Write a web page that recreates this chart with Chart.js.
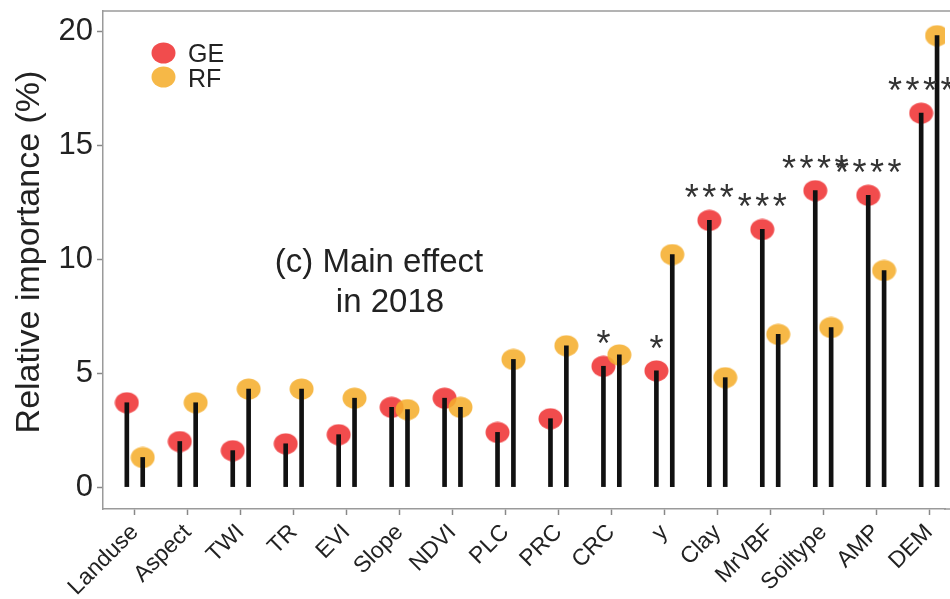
<!DOCTYPE html>
<html>
<head>
<meta charset="utf-8">
<script src="https://cdn.jsdelivr.net/npm/chart.js@4"></script>
<style>
  html, body { margin: 0; padding: 0; background: #fff; }
  #wrap { width: 950px; height: 599px; }
</style>
</head>
<body>
<div id="wrap"><canvas id="chart" width="950" height="599"></canvas></div>
<script>
const categories = ['Landuse', 'Aspect', 'TWI', 'TR', 'EVI', 'Slope', 'NDVI', 'PLC', 'PRC', 'CRC', 'y', 'Clay', 'MrVBF', 'Soiltype', 'AMP', 'DEM'];
const geValues = [3.7, 2.0, 1.6, 1.9, 2.3, 3.5, 3.9, 2.4, 3.0, 5.3, 5.1, 11.7, 11.3, 13.0, 12.8, 16.4];
const rfValues = [1.3, 3.7, 4.3, 4.3, 3.9, 3.4, 3.5, 5.6, 6.2, 5.8, 10.2, 4.8, 6.7, 7.0, 9.5, 19.8];
const sigMarks = ['', '', '', '', '', '', '', '', '', '*', '*', '***', '***', '****', '****', '****'];
const yTicks = [0, 5, 10, 15, 20];
const seriesNames = ['GE', 'RF'];

const FONT = '"Liberation Sans", Arial, sans-serif';
const GE_COLOR = 'rgba(240, 56, 58, 0.9)';
const RF_COLOR = 'rgba(245, 174, 45, 0.88)';
const FRAME = '#9a9a9a';
const SHIFT = 0.15; // dodge of the two lollipops within a category

// little ellipse used as point marker (points in the figure are slightly wider than tall)
function ellipse(color) {
  const c = document.createElement('canvas');
  c.width = 25; c.height = 22;
  const g = c.getContext('2d');
  g.fillStyle = color;
  g.beginPath();
  g.ellipse(12.5, 11, 12, 10.5, 0, 0, Math.PI * 2);
  g.fill();
  return c;
}
const geDot = ellipse(GE_COLOR);
const rfDot = ellipse(RF_COLOR);

const gePts = geValues.map((v, i) => ({ x: i - SHIFT, y: v }));
const rfPts = rfValues.map((v, i) => ({ x: i + SHIFT, y: v }));

const extras = {
  id: 'extras',
  afterDraw(chart) {
    const { ctx, chartArea: a, scales: { x, y } } = chart;
    ctx.save();

    // panel frame: top line, and run both lines out to the canvas edge (panel is cut off on the right)
    ctx.strokeStyle = FRAME;
    ctx.lineWidth = 1.5;
    ctx.beginPath();
    ctx.moveTo(a.left, a.top);
    ctx.lineTo(chart.width, a.top);
    ctx.moveTo(a.right - 1, a.bottom);
    ctx.lineTo(chart.width, a.bottom);
    ctx.stroke();

    // significance stars over the GE points
    ctx.fillStyle = '#333';
    ctx.font = '36px ' + FONT;
    ctx.textAlign = 'center';
    ctx.textBaseline = 'alphabetic';
    sigMarks.forEach((m, i) => {
      if (!m) return;
      const cx = x.getPixelForValue(i - SHIFT);
      const cy = y.getPixelForValue(geValues[i]) - 31;
      const n = m.length;
      for (let k = 0; k < n; k++) {
        const sx = cx + (k - (n - 1) / 2) * 17.5;
        ctx.fillText('*', sx, cy + 21);
      }
    });

    // legend
    ctx.drawImage(geDot, 151, 42);
    ctx.drawImage(rfDot, 151, 66);
    ctx.fillStyle = '#222';
    ctx.font = '25px ' + FONT;
    ctx.textAlign = 'left';
    ctx.fillText(seriesNames[0], 188, 62);
    ctx.fillText(seriesNames[1], 188, 87);

    // panel annotation
    ctx.font = '33px ' + FONT;
    ctx.textAlign = 'center';
    ctx.fillText('(c) Main effect', 379, 272);
    ctx.fillText('in 2018', 390, 312);

    // y axis title
    ctx.translate(30, 252);
    ctx.rotate(-Math.PI / 2);
    ctx.font = '34px ' + FONT;
    ctx.textBaseline = 'middle';
    ctx.fillText('Relative importance (%)', 0, 0);
    ctx.restore();
  }
};

new Chart(document.getElementById('chart'), {
  type: 'bar',
  data: {
    datasets: [
      { type: 'bar', data: gePts, backgroundColor: '#111', barThickness: 4, grouped: false, order: 0 },
      { type: 'bar', data: rfPts, backgroundColor: '#111', barThickness: 4, grouped: false, order: 0 },
      { type: 'scatter', label: seriesNames[0], data: gePts, pointStyle: geDot, order: 2 },
      { type: 'scatter', label: seriesNames[1], data: rfPts, pointStyle: rfDot, order: 1 }
    ]
  },
  options: {
    responsive: false,
    animation: false,
    devicePixelRatio: 1,
    layout: { padding: 0 },
    plugins: { legend: { display: false }, tooltip: { enabled: false } },
    scales: {
      x: {
        type: 'linear',
        offset: false,
        min: -0.6,
        max: 15.3,
        afterBuildTicks: s => { s.ticks = categories.map((_, i) => ({ value: i })); },
        afterFit: s => { s.height = 90; s.paddingRight = 0; s.paddingLeft = 0; },
        grid: { offset: false, drawOnChartArea: false, drawTicks: true, tickLength: 6, tickColor: '#888', tickWidth: 1.5 },
        border: { display: true, color: FRAME, width: 1.5 },
        ticks: {
          autoSkip: false,
          minRotation: 45,
          maxRotation: 45,
          padding: 4,
          color: '#222',
          font: { family: FONT, size: 23 },
          callback: v => categories[Math.round(v)]
        }
      },
      y: {
        min: -0.96,
        max: 20.88,
        afterBuildTicks: s => { s.ticks = yTicks.map(v => ({ value: v })); },
        afterFit: s => { s.width = 103; s.paddingTop = 11; s.paddingBottom = 0; },
        grid: { drawOnChartArea: false, drawTicks: true, tickLength: 6, tickColor: '#888', tickWidth: 1.5 },
        border: { display: true, color: FRAME, width: 1.5 },
        ticks: { padding: 4, color: '#222', font: { family: FONT, size: 31 } }
      }
    }
  },
  plugins: [extras]
});
</script>
</body>
</html>
